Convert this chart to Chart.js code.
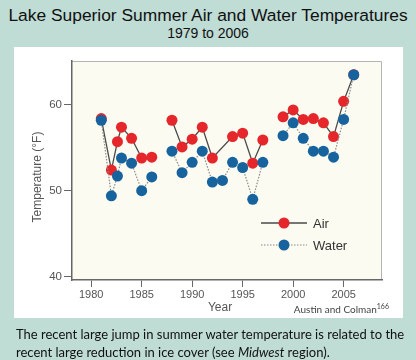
<!DOCTYPE html>
<html>
<head>
<meta charset="utf-8">
<script src="https://cdn.jsdelivr.net/npm/chart.js@4.4.1/dist/chart.umd.min.js"></script>
<style>
html, body { margin: 0; padding: 0; }
body { width: 416px; height: 360px; background: #bfdcd5; position: relative; overflow: hidden; font-family: "Liberation Sans", Arial, sans-serif; }
#title { position: absolute; left: 0; top: 5px; width: 416px; text-align: center; font-size: 17.4px; color: #111; line-height: 20px; }
#subtitle { position: absolute; left: 0; top: 24px; width: 416px; text-align: center; font-size: 14px; color: #111; line-height: 18px; }
#panel { position: absolute; left: 14px; top: 47px; width: 389px; height: 271px; background: #fff; }
#credit { position: absolute; right: 27px; top: 302px; font-family: Lato, "Open Sans", sans-serif; font-size: 10px; color: #444; }
#credit sup { font-size: 7px; }
#caption { position: absolute; left: 16px; top: 325px; width: 395px; font-family: Lato, "Open Sans", sans-serif; font-size: 13px; line-height: 18px; color: #111; }
</style>
</head>
<body>
<div id="title">Lake Superior Summer Air and Water Temperatures</div>
<div id="subtitle">1979 to 2006</div>
<div id="panel"><canvas id="chart" width="389" height="271"></canvas></div>
<div id="credit">Austin and Colman<sup>166</sup></div>
<div id="caption">The recent large jump in summer water temperature is related to the recent large reduction in ice cover (see <i>Midwest</i> region).</div>
<script>
// 読み取った値 (null = 線を切る)
const airYears = [1981, 1982, 1982.6, 1983, 1984, 1985, 1986, 1987, 1988, 1989, 1990, 1991, 1992, 1994, 1995, 1996, 1997, 1998, 1999, 2000, 2001, 2002, 2003, 2004, 2005, 2006];
const airTemps = [58.4, 52.4, 55.7, 57.4, 56.1, 53.8, 53.9, null, 58.2, 55.1, 56.0, 57.4, 53.8, 56.3, 56.7, 53.2, 55.9, null, 58.6, 59.4, 58.3, 58.4, 57.9, 56.3, 60.4, 63.5];
const waterYears = [1981, 1982, 1982.6, 1983, 1984, 1985, 1986, 1987, 1988, 1989, 1990, 1991, 1992, 1993, 1994, 1995, 1996, 1997, 1998, 1999, 2000, 2001, 2002, 2003, 2004, 2005, 2006];
const waterTemps = [58.2, 49.4, 51.7, 53.8, 53.2, 50.0, 51.6, null, 54.6, 52.1, 53.3, 54.6, 51.0, 51.2, 53.3, 52.7, 49.0, 53.3, null, 56.4, 57.9, 56.1, 54.6, 54.6, 53.9, 58.3, 63.5];
const xTicks = [1980, 1985, 1990, 1995, 2000, 2005];
const yTicks = [40, 50, 60];
const seriesNames = ["Air", "Water"];

function toPoints(xs, ys) {
    let pts = [];
    for (let i = 0; i < xs.length; i++) {
        pts.push({ x: xs[i], y: ys[i] });
    }
    return pts;
}

// 背景と枠
const plotBg = {
    id: "plotBg",
    beforeDraw(chart) {
        const { ctx, chartArea: a } = chart;
        ctx.save();
        ctx.fillStyle = "#fbfbf1";
        ctx.fillRect(a.left, a.top, a.width, a.height);
        ctx.strokeStyle = "#b4b4b4";
        ctx.lineWidth = 1;
        ctx.beginPath();
        ctx.moveTo(a.left, a.top + 0.5);
        ctx.lineTo(a.right - 0.5, a.top + 0.5);
        ctx.lineTo(a.right - 0.5, a.bottom);
        ctx.stroke();
        ctx.restore();
    },
    afterDraw(chart) {
        const { ctx, chartArea: a } = chart;
        ctx.save();
        ctx.fillStyle = "#555";
        ctx.font = "12px 'Liberation Sans', Arial, sans-serif";
        ctx.textAlign = "center";
        ctx.textBaseline = "middle";
        ctx.fillText("Year", 206, 261);
        ctx.translate(24, 130);
        ctx.rotate(-Math.PI / 2);
        ctx.fillText("Temperature (\u00B0F)", 0, 0);
        ctx.restore();
    }
};

// 凡例 (線の中央に点)
const lineLegend = {
    id: "lineLegend",
    afterDatasetsDraw(chart) {
        const ctx = chart.ctx;
        const rows = [
            { ds: chart.data.datasets[1], y: 176 },
            { ds: chart.data.datasets[0], y: 198 }
        ];
        ctx.save();
        rows.forEach(r => {
            ctx.strokeStyle = r.ds.borderColor;
            ctx.lineWidth = r.ds.borderWidth;
            ctx.setLineDash(r.ds.borderDash || []);
            ctx.beginPath();
            ctx.moveTo(247, r.y);
            ctx.lineTo(293, r.y);
            ctx.stroke();
            ctx.setLineDash([]);
            ctx.fillStyle = r.ds.pointBackgroundColor;
            ctx.beginPath();
            ctx.arc(270, r.y, r.ds.pointRadius, 0, Math.PI * 2);
            ctx.fill();
            ctx.fillStyle = "#333";
            ctx.font = "13px 'Liberation Sans', Arial, sans-serif";
            ctx.textBaseline = "middle";
            ctx.fillText(r.ds.label, 299, r.y + 1);
        });
        ctx.restore();
    }
};

const ctx = document.getElementById("chart");
const myChart = new Chart(ctx, {
    type: "line",
    data: {
        datasets: [
            {
                label: seriesNames[1],
                data: toPoints(waterYears, waterTemps),
                borderColor: "#8a8a8a",
                borderWidth: 1.2,
                borderDash: [1.5, 1.5],
                pointBackgroundColor: "#17639e",
                pointBorderColor: "#17639e",
                pointBorderWidth: 0,
                pointRadius: 5.5,
                spanGaps: false,
                order: 0
            },
            {
                label: seriesNames[0],
                data: toPoints(airYears, airTemps),
                borderColor: "#4a4a4a",
                borderWidth: 1.3,
                pointBackgroundColor: "#e5262a",
                pointBorderColor: "#e5262a",
                pointBorderWidth: 0,
                pointRadius: 5.5,
                spanGaps: false,
                order: 1
            }
        ]
    },
    options: {
        responsive: false,
        animation: false,
        layout: { padding: { top: 14, right: 21, left: 0, bottom: 0 } },
        plugins: {
            legend: { display: false },
            tooltip: { enabled: false }
        },
        scales: {
            x: {
                type: "linear",
                min: 1978.1,
                max: 2008.8,
                afterBuildTicks: s => { s.ticks = xTicks.map(v => ({ value: v })); },
                afterFit: s => { s.height = 38; },
                ticks: {
                    callback: v => String(v),
                    color: "#555",
                    font: { size: 11, family: "'Liberation Sans', Arial, sans-serif" },
                    padding: 1,
                    maxRotation: 0,
                    autoSkip: false
                },
                grid: { drawOnChartArea: false, drawTicks: true, tickLength: 7, color: "#666", lineWidth: 1 },
                border: { color: "#666", width: 1.5 }
            },
            y: {
                type: "linear",
                min: 39.6,
                max: 65.1,
                afterBuildTicks: s => { s.ticks = yTicks.map(v => ({ value: v })); },
                afterFit: s => { s.width = 58; },
                ticks: {
                    callback: v => String(v),
                    color: "#555",
                    font: { size: 11.5, family: "'Liberation Sans', Arial, sans-serif" },
                    padding: 2
                },
                grid: { drawOnChartArea: false, drawTicks: true, tickLength: 8, color: "#666", lineWidth: 1 },
                border: { color: "#666", width: 1.5 }
            }
        }
    },
    plugins: [plotBg, lineLegend]
});
</script>
</body>
</html>
